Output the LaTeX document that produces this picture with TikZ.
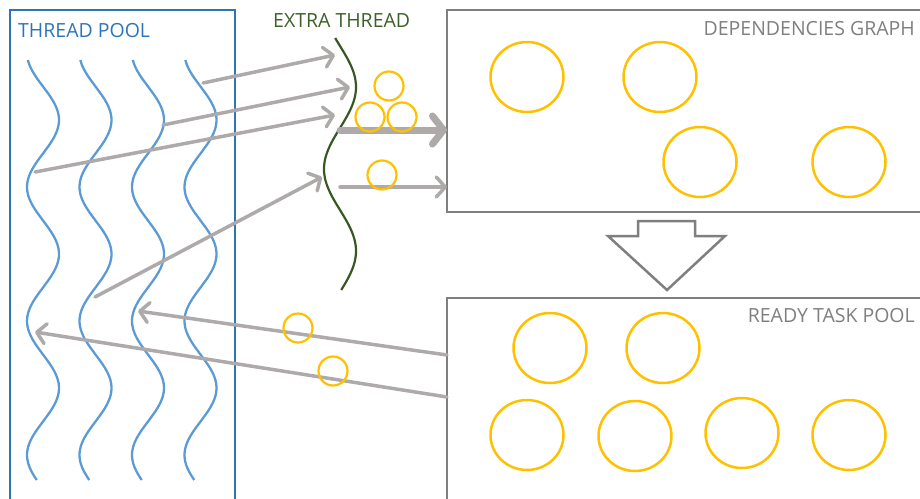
\documentclass[tikz,border=0pt]{standalone}
\usepackage{fontspec}
\setmainfont{Open Sans}
\usetikzlibrary{arrows.meta,shapes.geometric}
\definecolor{poolblue}{HTML}{2E75B6}
\definecolor{wavecol}{HTML}{5B9BD5}
\definecolor{xgreen}{HTML}{385723}
\definecolor{xtext}{HTML}{3B6128}
\definecolor{boxgray}{HTML}{7F7F7F}
\definecolor{flowgray}{HTML}{AEAAAA}
\definecolor{taskgold}{HTML}{FFC000}
\begin{document}
\begin{tikzpicture}[x=1pt,y=-1pt,
  wave/.style={wavecol, line width=2.3pt},
  poolbox/.style={draw=poolblue, line width=2.7pt, rectangle, anchor=north west, inner sep=0pt, outer sep=0pt},
  graybox/.style={draw=boxgray, line width=2.8pt, rectangle, anchor=north west, inner sep=0pt, outer sep=0pt},
  label/.style={font=\fontsize{19.5}{22}\selectfont, inner sep=0pt},
  flow/.style={flowgray, line width=3.5pt, line cap=round,
    -{Straight Barb[length=9pt,width=20pt,round]}},
  bigflow/.style={flowgray, line width=7pt, line cap=round,
    -{Straight Barb[length=11pt,width=28pt,round]}},
  task/.style={draw=taskgold, line width=2.5pt, ellipse, inner sep=0pt,
    minimum width=73pt, minimum height=70pt},
  smalltask/.style={draw=taskgold, line width=2.2pt, circle, inner sep=0pt,
    minimum size=29pt},
]
\useasboundingbox (0,0) rectangle (920,498);

% containers
\node[poolbox, minimum width=225pt, minimum height=520pt] (pool) at (10,10) {};
\node[graybox, minimum width=500pt, minimum height=202pt] (deps) at (447,10) {};
\node[graybox, minimum width=500pt, minimum height=250pt] (ready) at (447,298) {};

% titles
\node[label, text=poolblue, anchor=base west] (pooltitle) at (18,37) {THREAD POOL};
\node[label, text=xtext, anchor=base west] (xtitle) at (273,27) {EXTRA THREAD};
\node[label, text=boxgray, anchor=base east] (depstitle) at (915,35) {DEPENDENCIES GRAPH};
\node[label, text=boxgray, anchor=base east] (readytitle) at (915,322) {READY TASK POOL};

% worker threads
\foreach \i in {0,...,3}{
  \draw[wave] plot[domain=60:480, samples=140, smooth]
    ({43+52.5*\i-16*cos((\x-53)/67*180)}, \x);
}
% extra thread
\draw[xgreen, line width=2.2pt] plot[domain=38:290, samples=120, smooth]
  ({340+16*cos((\x-87)/82*180)}, \x);

% hand-off points
\coordinate (t4) at (203,83);
\coordinate (t3) at (163,125);
\coordinate (t1) at (35,172);
\coordinate (t2) at (95,297);
\coordinate (e1) at (335,55);
\coordinate (e2) at (350,87);
\coordinate (e3) at (335,115);
\coordinate (e4) at (322,177);
\coordinate (g1) at (340,130);
\coordinate (g2) at (340,187);
\coordinate (r1) at (447,355);
\coordinate (r2) at (447,397);
\coordinate (p3) at (138,311);
\coordinate (p1) at (35,332);

% task flow
\draw[flow] (t4) -- (e1);
\draw[flow] (t3) -- (e2);
\draw[flow] (t1) -- (e3);
\draw[flow] (t2) -- (e4);
\draw[bigflow] (g1) -- (g1 -| deps.west);
\draw[flow] (g2) -- (g2 -| deps.west);
\draw[flow] (r1) -- (p3);
\draw[flow] (r2) -- (p1);

% block arrow between the two task sets
\draw[boxgray, line width=2.5pt, line join=miter]
  (638,221) -- (695,221) -- (695,236) -- (725,236) -- (667,290)
  -- (608,236) -- (638,236) -- cycle;

% tasks in the dependencies graph
\node[task] (d1) at (527,77) {};
\node[task] (d2) at (660,77) {};
\node[task] (d3) at (700,162) {};
\node[task] (d4) at (849,162) {};

% tasks in the ready pool
\node[task] (q1) at (550,348) {};
\node[task] (q2) at (663,348) {};
\node[task] (q3) at (527,435) {};
\node[task] (q4) at (635,436) {};
\node[task] (q5) at (742,433) {};
\node[task] (q6) at (849,435) {};

% tasks travelling with the extra thread
\node[smalltask] (s1) at (389,86) {};
\node[smalltask] (s2) at (370,117) {};
\node[smalltask] (s3) at (402,117) {};
\node[smalltask] (s4) at (382,175) {};

% tasks travelling back to the workers
\node[smalltask] (s5) at (298,328) {};
\node[smalltask] (s6) at (333,371) {};
\end{tikzpicture}
\end{document}
